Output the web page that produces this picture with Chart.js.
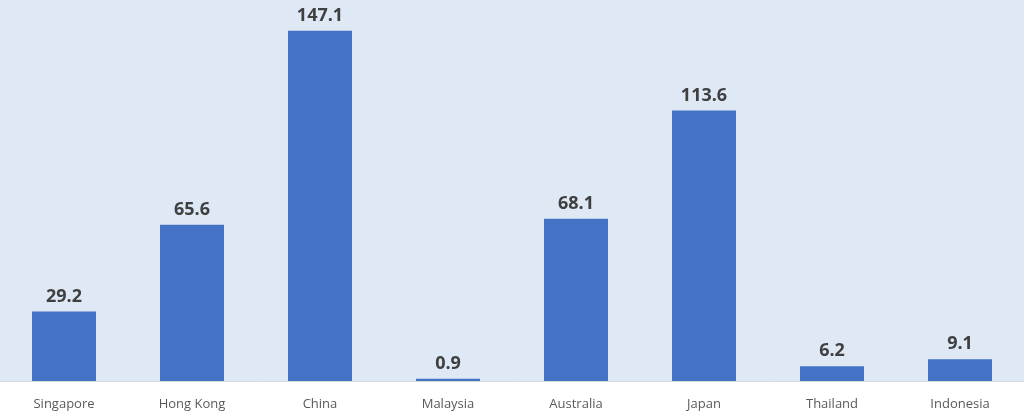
<!DOCTYPE html>
<html>
<head>
<meta charset="utf-8">
<script src="https://cdn.jsdelivr.net/npm/chart.js@4"></script>
<style>
  html, body { margin: 0; padding: 0; background: #fff; }
  #wrap { width: 1024px; height: 419px; }
</style>
</head>
<body>
<div id="wrap"><canvas id="chart"></canvas></div>
<script>
var countries = ['Singapore', 'Hong Kong', 'China', 'Malaysia', 'Australia', 'Japan', 'Thailand', 'Indonesia'];
var values = [29.2, 65.6, 147.1, 0.9, 68.1, 113.6, 6.2, 9.1];
var yMax = 160;

// fundo azul claro so na area do grafico
var plotBg = {
    id: 'plotBg',
    beforeDraw: function(chart) {
        var a = chart.chartArea, ctx = chart.ctx;
        ctx.save();
        ctx.fillStyle = '#dee9f5';
        ctx.fillRect(a.left, a.top, a.right - a.left, a.bottom - a.top);
        ctx.restore();
    }
};

// rotulos de valor acima das barras
var valueLabels = {
    id: 'valueLabels',
    afterDatasetsDraw: function(chart) {
        var ctx = chart.ctx;
        var meta = chart.getDatasetMeta(0);
        ctx.save();
        ctx.font = 'bold 18px "Open Sans"';
        ctx.fillStyle = '#404040';
        ctx.textAlign = 'center';
        ctx.textBaseline = 'bottom';
        meta.data.forEach(function(bar, i) {
            ctx.fillText(values[i].toFixed(1), bar.x, bar.y - 6);
        });
        ctx.restore();
    }
};

new Chart(document.getElementById('chart'), {
    type: 'bar',
    data: {
        labels: countries,
        datasets: [{
            data: values,
            backgroundColor: '#4472c4',
            categoryPercentage: 1,
            barPercentage: 0.5
        }]
    },
    options: {
        responsive: true,
        maintainAspectRatio: false,
        animation: false,
        layout: { padding: 0 },
        plugins: { legend: { display: false }, tooltip: { enabled: false } },
        scales: {
            x: {
                grid: { display: false },
                border: { color: '#d9d9d9', width: 1 },
                ticks: { color: '#595959', font: { family: '"Open Sans"', size: 13 }, padding: 7 },
                afterFit: function(scale) { scale.height = 38; }
            },
            y: {
                display: false,
                min: 0,
                max: yMax
            }
        }
    },
    plugins: [plotBg, valueLabels]
});
</script>
</body>
</html>
